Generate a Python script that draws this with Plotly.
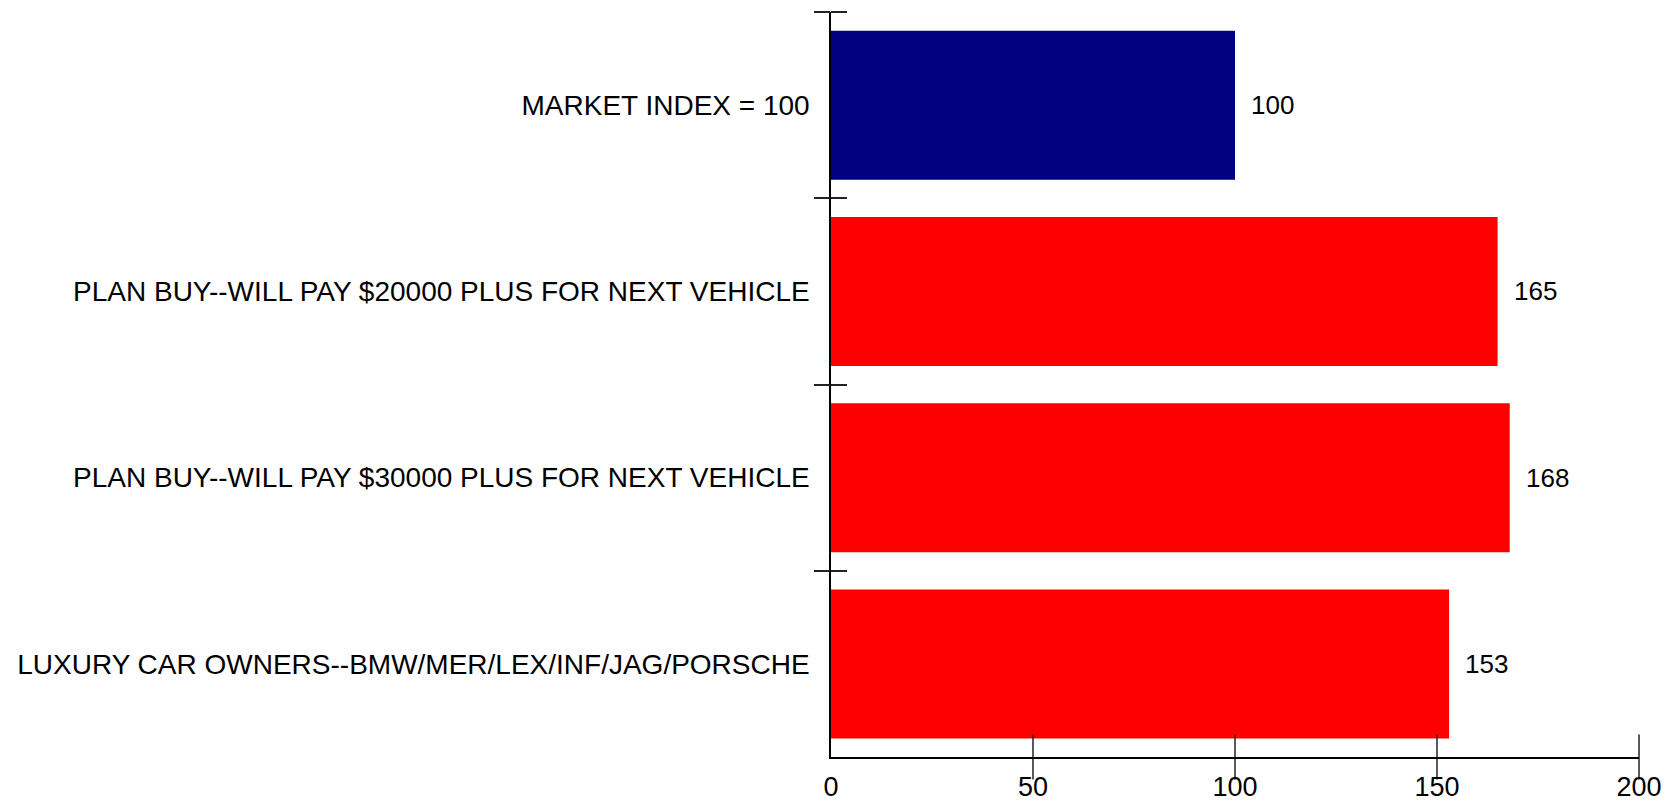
import plotly.graph_objects as go

# Index values by segment (market = 100)
categories = [
    "MARKET INDEX = 100",
    "PLAN BUY--WILL PAY $20000 PLUS FOR NEXT VEHICLE",
    "PLAN BUY--WILL PAY $30000 PLUS FOR NEXT VEHICLE",
    "LUXURY CAR OWNERS--BMW/MER/LEX/INF/JAG/PORSCHE",
]
values = [100, 165, 168, 153]
bar_colors = ["#000080", "#FF0000", "#FF0000", "#FF0000"]
x_ticks = [0, 50, 100, 150, 200]

positions = list(range(len(categories)))
# tick marks sit on the upper edge of each category band
band_edges = [p - 0.5 for p in positions]
y_range = [len(categories) - 0.5, -0.5]
x_range = [0, 200]

FONT = "Liberation Sans, Arial, sans-serif"
TICK_LEN = 16

fig = go.Figure()
fig.add_trace(go.Bar(
    x=values, y=positions, orientation="h",
    marker=dict(color=bar_colors, line=dict(width=0)),
    width=0.8, hoverinfo="skip", showlegend=False,
))

# crossing tick marks on the value axis (none at the origin)
fig.add_trace(go.Scatter(
    x=x_ticks[1:], y=[y_range[0]] * len(x_ticks[1:]), mode="markers",
    marker=dict(symbol="line-ns", size=2 * TICK_LEN,
                line=dict(width=1.5, color="#222222")),
    cliponaxis=False, hoverinfo="skip", showlegend=False,
))
# empty trace so the tick-only overlay y axis gets drawn
fig.add_trace(go.Scatter(x=[], y=[], xaxis="x", yaxis="y2", showlegend=False,
                         hoverinfo="skip"))

for v, p in zip(values, positions):
    fig.add_annotation(
        x=v, y=p, text=str(v), showarrow=False,
        xanchor="left", yanchor="middle", xshift=14,
        font=dict(family=FONT, size=26, color="#000000"),
    )

axis_line = dict(showline=True, linecolor="#000000", linewidth=1.5)
tick_style = dict(ticklen=TICK_LEN, tickwidth=1.5, tickcolor="#222222", showticklabels=False,
                  showgrid=False, zeroline=False, showline=False, automargin=False)
inner_ticks = dict(ticks="inside", ticklen=TICK_LEN, tickwidth=1.5, tickcolor="#222222",
                   showgrid=False)

fig.update_layout(
    width=1675, height=804,
    margin=dict(l=831, r=36, t=12, b=47, autoexpand=False),
    paper_bgcolor="white", plot_bgcolor="white",
    bargap=0.2,
    xaxis=dict(
        range=x_range, tickvals=x_ticks, ticktext=[str(t) for t in x_ticks],
        ticks="", ticklabelstandoff=5, showgrid=False, zeroline=False, automargin=False,
        tickfont=dict(family=FONT, size=27, color="#000000"), **axis_line,
    ),
    yaxis=dict(
        range=y_range, tickvals=positions, ticktext=categories,
        ticks="", ticklabelstandoff=14, showgrid=False, zeroline=False, automargin=False,
        tickfont=dict(family=FONT, size=28, color="#000000"),
        minor=dict(tickvals=band_edges, **inner_ticks), **axis_line,
    ),
    yaxis2=dict(overlaying="y", anchor="x", side="left", range=y_range,
                tickvals=band_edges, ticks="outside", **tick_style),
)

fig.write_html("out.html")
